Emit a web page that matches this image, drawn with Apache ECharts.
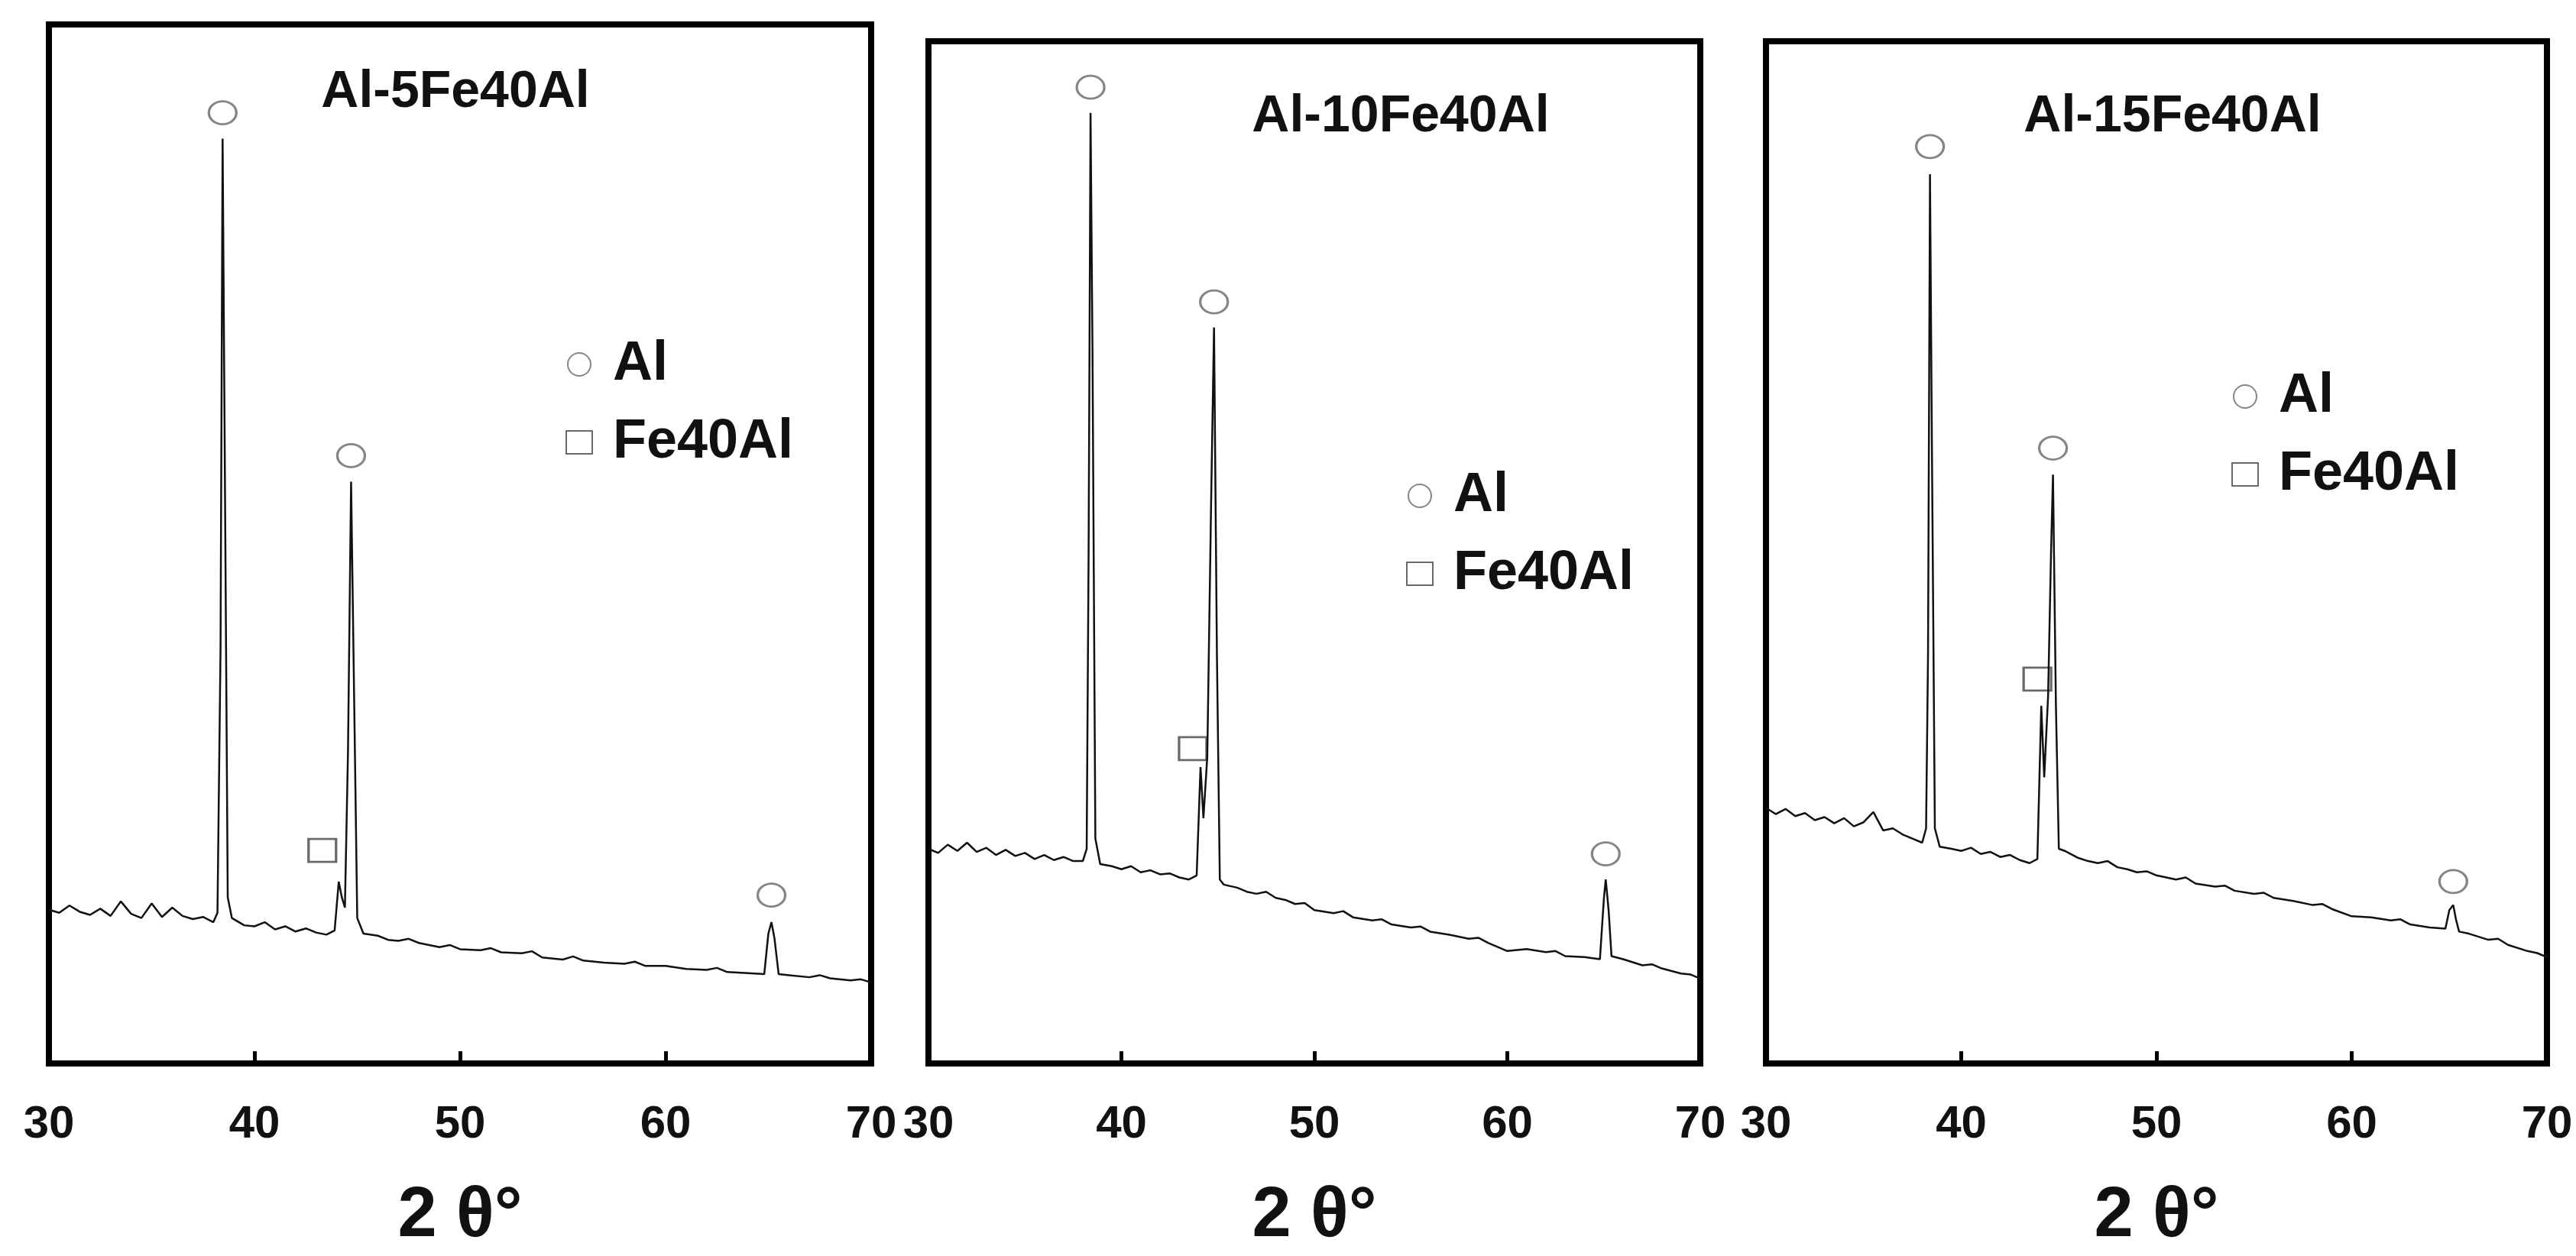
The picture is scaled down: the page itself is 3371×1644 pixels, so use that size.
<!DOCTYPE html>
<html>
<head>
<meta charset="utf-8">
<script src="https://cdn.jsdelivr.net/npm/echarts@6/dist/echarts.min.js"></script>
<style>html,body{margin:0;background:#fff}#c{width:3371px;height:1644px}</style>
</head>
<body>
<div id="c"></div>
<script>
const titles = ["Al-5Fe40Al", "Al-10Fe40Al", "Al-15Fe40Al"];
const xTicks = [30, 40, 50, 60, 70];

const pattern1 = [[30,14.8],[30.5,14.5],[31,15.2],[31.5,14.6],[32,14.3],[32.5,14.9],[33,14.2],[33.5,15.6],[34,14.4],[34.5,14.0],[35,15.4],[35.5,14.1],[36,15.0],[36.5,14.2],[37,13.9],[37.5,14.1],[38,13.6],[38.2,14.5],[38.35,40],[38.45,89],[38.55,60],[38.7,16],[38.9,14],[39.5,13.3],[40,13.2],[40.5,13.6],[41,12.9],[41.5,13.2],[42,12.7],[42.5,13.0],[43,12.6],[43.5,12.4],[43.9,12.8],[44.1,17.5],[44.25,16],[44.4,15],[44.55,30],[44.7,56],[44.85,35],[45.0,14],[45.3,12.5],[46,12.3],[46.5,11.9],[47,11.8],[47.5,12.0],[48,11.6],[48.5,11.4],[49,11.2],[49.5,11.4],[50,11.0],[51,10.9],[51.5,11.1],[52,10.7],[53,10.6],[53.5,10.8],[54,10.2],[55,10.0],[55.5,10.3],[56,9.9],[57,9.7],[58,9.6],[58.5,9.8],[59,9.4],[60,9.4],[61,9.1],[62,9.0],[62.5,9.2],[63,8.8],[64,8.7],[64.8,8.6],[65.0,12.5],[65.15,13.6],[65.3,12],[65.5,8.6],[66,8.5],[67,8.3],[67.5,8.5],[68,8.2],[69,8.0],[69.5,8.1],[70,7.8]];
const pattern2 = [[30,21.0],[30.5,20.6],[31,21.4],[31.5,20.8],[32,21.6],[32.5,20.7],[33,21.1],[33.5,20.4],[34,20.9],[34.5,20.3],[35,20.6],[35.5,20.0],[36,20.4],[36.5,19.9],[37,20.2],[37.5,19.8],[38,19.8],[38.2,21],[38.3,50],[38.4,93],[38.5,70],[38.65,22],[38.9,19.5],[39.5,19.3],[40,19.0],[40.5,19.3],[41,18.7],[41.5,18.9],[42,18.5],[42.5,18.6],[43,18.2],[43.5,18.0],[43.9,18.4],[44.1,29],[44.25,24],[44.45,30],[44.65,55],[44.8,72],[44.95,40],[45.1,18],[45.3,17.5],[46,17.2],[46.5,16.8],[47,16.6],[47.5,16.8],[48,16.2],[48.5,16.0],[49,15.6],[49.5,15.7],[50,15.0],[51,14.7],[51.5,14.9],[52,14.3],[53,14.0],[53.5,14.1],[54,13.6],[55,13.3],[55.5,13.4],[56,12.9],[57,12.6],[58,12.2],[58.5,12.3],[59,11.8],[60,11.0],[61,11.2],[62,10.9],[62.5,11.0],[63,10.5],[64,10.4],[64.8,10.2],[65.0,16],[65.1,18],[65.25,15],[65.4,10.5],[66,10.2],[67,9.6],[67.5,9.7],[68,9.3],[69,8.8],[69.5,8.7],[70,8.3]];
const pattern3 = [[30,25.0],[30.5,24.4],[31,24.9],[31.5,24.2],[32,24.5],[32.5,23.8],[33,24.1],[33.5,23.5],[34,24.0],[34.5,23.2],[35,23.6],[35.5,24.6],[36,22.8],[36.5,23.0],[37,22.4],[37.5,22.0],[38,21.6],[38.2,23],[38.3,40],[38.4,87],[38.5,60],[38.65,23],[38.9,21.2],[39.5,21.0],[40,20.8],[40.5,21.1],[41,20.5],[41.5,20.7],[42,20.2],[42.5,20.4],[43,19.9],[43.5,19.6],[43.9,20.0],[44.1,35],[44.25,28],[44.45,36],[44.6,50],[44.7,57.6],[44.85,35],[45.0,21],[45.3,20.8],[46,20.1],[46.5,19.8],[47,19.6],[47.5,19.8],[48,19.2],[48.5,19.0],[49,18.7],[49.5,18.8],[50,18.4],[51,18.0],[51.5,18.2],[52,17.6],[53,17.3],[53.5,17.4],[54,16.9],[55,16.6],[55.5,16.7],[56,16.2],[57,15.9],[58,15.5],[58.5,15.6],[59,15.1],[60,14.4],[61,14.3],[62,14.0],[62.5,14.1],[63,13.6],[64,13.3],[64.8,13.2],[65.0,15],[65.2,15.5],[65.35,14],[65.5,12.9],[66,12.7],[67,12.1],[67.5,12.2],[68,11.6],[69,11.0],[69.5,10.8],[70,10.4]];
const patterns = [pattern1, pattern2, pattern3];

const alMarks = [
  [[38.45,91.5],[44.7,58.5],[65.15,16.2]],
  [[38.4,95.5],[44.8,74.5],[65.1,20.5]],
  [[38.4,89.7],[44.7,60.2],[65.2,17.8]]
];
const feMarks = [[[43.3,20.5]], [[43.7,30.8]], [[43.9,37.6]]];

const grids = [
  { left: 64, top: 32, width: 1076, height: 1408 },
  { left: 1215, top: 54, width: 1010, height: 1386 },
  { left: 2311, top: 54, width: 1022, height: 1376 }
];
const titlePos = [[591, 82], [1828, 114], [2838, 114]];
const legendPos = [[735, 436], [1835, 608], [2915, 478]];

const chart = echarts.init(document.getElementById("c"));
const font = "Liberation Sans";
const option = {
  animation: false,
  backgroundColor: "#fff",
  title: titles.map((t, i) => ({
    text: t, left: titlePos[i][0], top: titlePos[i][1], textAlign: "center",
    textStyle: { fontFamily: font, fontWeight: "bold", fontSize: 68, color: "#111" }
  })),
  legend: grids.map((g, i) => ({
    data: ["Al", "Fe40Al"], orient: "vertical", left: legendPos[i][0], top: legendPos[i][1],
    itemGap: 30, itemWidth: 34, itemHeight: 30,
    textStyle: { fontFamily: font, fontWeight: "bold", fontSize: 72, color: "#111", padding: [0, 0, 0, 22] },
    selectedMode: false
  })),
  grid: grids.map(g => Object.assign({ show: true, borderColor: "#000", borderWidth: 8, backgroundColor: "transparent" }, g)),
  xAxis: grids.map((g, i) => ({
    gridIndex: i, type: "value", min: 30, max: 70, interval: 10,
    name: "2 θ°", nameLocation: "middle", nameGap: 155,
    nameTextStyle: { fontFamily: font, fontWeight: "bold", fontSize: 92, color: "#111" },
    axisLine: { show: false },
    axisTick: { inside: true, length: 16, lineStyle: { color: "#000", width: 5 } },
    axisLabel: { margin: 50, fontFamily: font, fontWeight: "bold", fontSize: 60, color: "#111",
      formatter: v => xTicks.includes(v) ? String(v) : "" },
    splitLine: { show: false }
  })),
  yAxis: grids.map((g, i) => ({
    gridIndex: i, type: "value", min: 0, max: 100,
    axisLine: { show: false }, axisTick: { show: false }, axisLabel: { show: false }, splitLine: { show: false }
  })),
  series: []
};
patterns.forEach((p, i) => {
  option.series.push({
    type: "line", xAxisIndex: i, yAxisIndex: i, data: p, showSymbol: false, silent: true,
    lineStyle: { color: "#111", width: 2.5 }
  });
  option.series.push({
    name: "Al", type: "scatter", xAxisIndex: i, yAxisIndex: i, data: alMarks[i],
    symbol: "circle", symbolSize: [36, 30],
    itemStyle: { color: "#fff", borderColor: "#666", borderWidth: 3 }
  });
  option.series.push({
    name: "Fe40Al", type: "scatter", xAxisIndex: i, yAxisIndex: i, data: feMarks[i],
    symbol: "rect", symbolSize: [36, 30],
    itemStyle: { color: "#fff", borderColor: "#444", borderWidth: 3 }
  });
});
chart.setOption(option);
</script>
</body>
</html>
